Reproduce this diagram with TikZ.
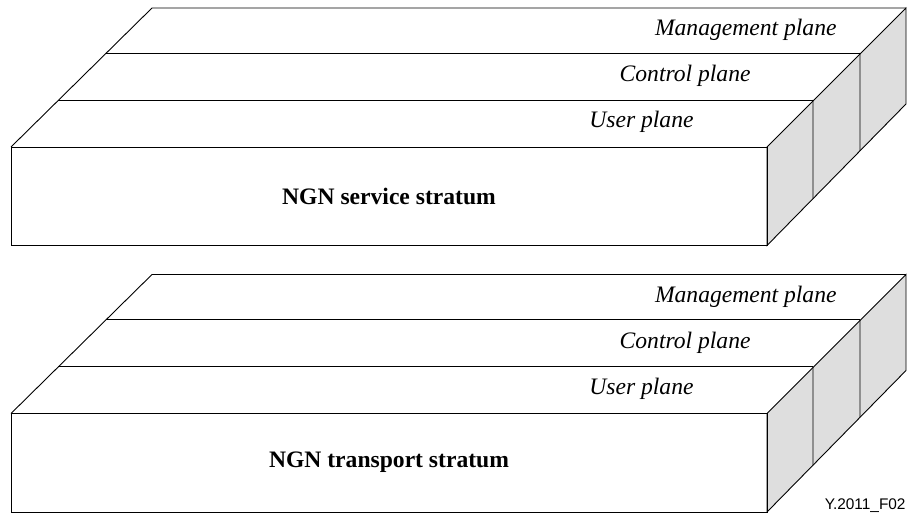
\documentclass[tikz,border=0pt]{standalone}
\usepackage{fontspec}
\setmainfont{Liberation Serif}
\newfontfamily\tagfont{Liberation Sans}
\begin{document}
\begin{tikzpicture}[x=1pt,y=-1pt,line width=0.9pt,
  plane/.style={font=\fontsize{23.6}{28}\selectfont\itshape,anchor=base east,inner sep=0pt},
  stratum/.style={font=\fontsize{23.6}{28}\selectfont\bfseries,inner sep=0pt},
  sideface/.style={draw,fill=black!13}]
 \useasboundingbox (0,0) rectangle (907,513);
 \foreach \oy/\nm/\lbl in
  {
    0/srv/NGN service stratum, 266.5/trp/NGN transport stratum
  }
  {
   \begin{scope}[shift={(0,\oy)}]
    % side faces
    \draw[sideface] (767,147) -- (906,8) -- (906,104) -- (767,245.5) -- cycle;
    \draw (813,100) -- (intersection of 813,0--813,300 and 906,104--767,245.5);
    \draw (860,53) -- (intersection of 860,0--860,300 and 906,104--767,245.5);
    % top planes
    \draw (11,147) -- (152,8) -- (906,8);
    \draw (58,100) -- (813,100);
    \draw (106,53) -- (860,53);
    % front face
    \draw (11,147) rectangle (767,245.5);
    \node[stratum] (\nm) at (389,196) {\lbl};
    \node[plane] (\nm-mgmt) at (837,36) {Management plane};
    \node[plane] (\nm-ctrl) at (751,82) {Control plane};
    \node[plane] (\nm-user) at (694,128) {User plane};
   \end{scope}
  }
 \node[font=\tagfont\fontsize{15.4}{18}\selectfont,anchor=base east,inner sep=0pt] (tag) at (906,509) {Y.2011\_F02};
\end{tikzpicture}
\end{document}
